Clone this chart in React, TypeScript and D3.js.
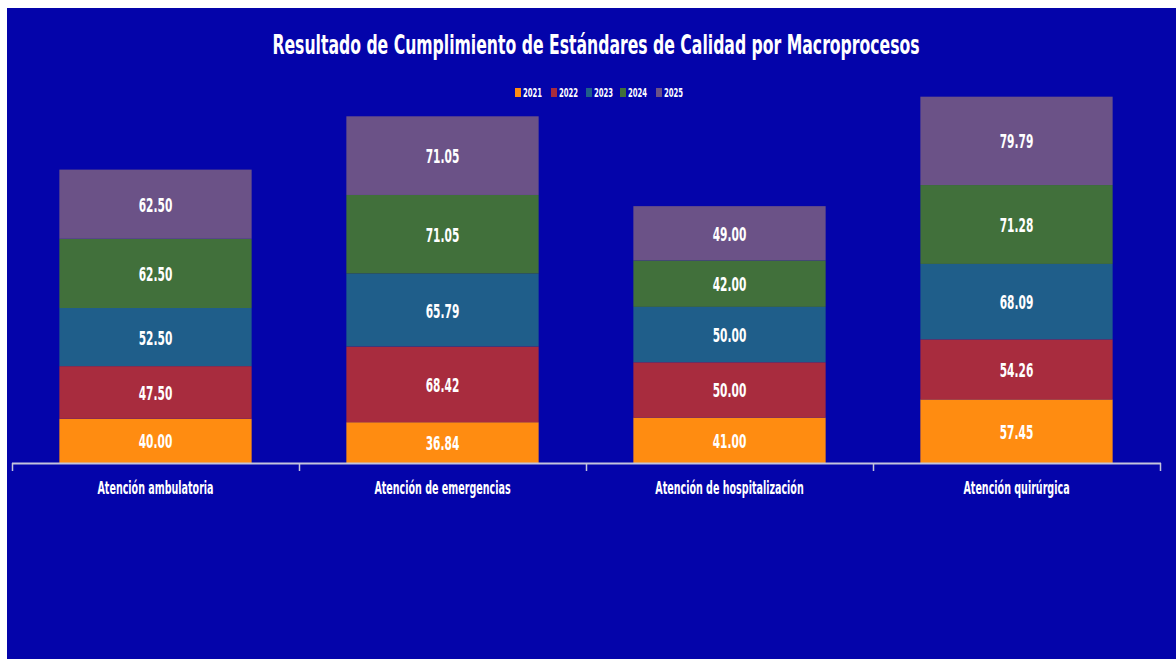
import React from "react";
import * as d3 from "d3";

const categories = [
  "Atención ambulatoria",
  "Atención de emergencias",
  "Atención de hospitalización",
  "Atención quirúrgica",
];
const years = ["2021", "2022", "2023", "2024", "2025"];
const v2021 = [40.0, 36.84, 41.0, 57.45];
const v2022 = [47.5, 68.42, 50.0, 54.26];
const v2023 = [52.5, 65.79, 50.0, 68.09];
const v2024 = [62.5, 71.05, 42.0, 71.28];
const v2025 = [62.5, 71.05, 49.0, 79.79];
const seriesValues = [v2021, v2022, v2023, v2024, v2025];
const colors = ["#FF8C11", "#A82C3E", "#1F5E8A", "#41703B", "#6B5287"];
const title = "Resultado de Cumplimiento de Estándares de Calidad por Macroprocesos";

const W = 1176;
const H = 659;
const BG = "#0404AA";
const FONT = "'Liberation Sans Narrow', 'DejaVu Sans Condensed', 'Liberation Sans', sans-serif";

export default function App() {
  const rows = categories.map((c, i) => {
    const r: any = { cat: c };
    years.forEach((y, j) => (r[y] = seriesValues[j][i]));
    return r;
  });
  const stack = d3.stack<any>().keys(years)(rows);

  const x = d3.scaleBand<string>().domain(categories).range([12, 1160]).paddingInner(0.33).paddingOuter(0.165);
  const xOuter = d3.scaleBand<string>().domain(categories).range([12, 1160]);
  const y = d3.scaleLinear().domain([0, 350]).range([463, 75.5]);

  const legendX = [515, 551, 586, 620, 656];

  return (
    <svg width={W} height={H} style={{ position: "fixed", left: 0, top: 0 }} fontFamily={FONT}>
      <rect x={7} y={8} width={W - 7} height={H - 8} fill={BG} />
      <text
        transform={`translate(596,54) scale(0.67,1)`}
        textAnchor="middle"
        fill="#fff"
        fontSize={26}
        fontWeight="bold"
      >
        {title}
      </text>
      {years.map((yr, i) => (
        <g key={yr}>
          <rect x={legendX[i]} y={88} width={6} height={9} fill={colors[i]} />
          <text
            transform={`translate(${legendX[i] + 8},97) scale(0.61,1)`}
            fill="#fff"
            fontSize={12.5}
            fontWeight="bold"
          >
            {yr}
          </text>
        </g>
      ))}
      {stack.map((s, si) => (
        <g key={s.key}>
          {s.map((d) => {
            const cat = d.data.cat;
            const x0 = x(cat)!;
            const y0 = y(d[1]);
            const h = y(d[0]) - y(d[1]);
            const cx = x0 + x.bandwidth() / 2;
            return (
              <g key={cat}>
                <rect x={x0} y={y0} width={x.bandwidth()} height={h} fill={colors[si]} />
                <text
                  transform={`translate(${cx},${y0 + h / 2 + 7.5}) scale(0.59,1)`}
                  textAnchor="middle"
                  fill="#fff"
                  fontSize={20}
                  fontWeight="bold"
                >
                  {(d[1] - d[0]).toFixed(2)}
                </text>
              </g>
            );
          })}
        </g>
      ))}
      <line x1={12} x2={1161} y1={463.5} y2={463.5} stroke="#C4C4DC" strokeWidth={2} />
      {[...categories.map((c) => xOuter(c)!), 1160].map((t, i) => (
        <line key={i} x1={t + 0.5} x2={t + 0.5} y1={463} y2={471} stroke="#C4C4DC" strokeWidth={1.5} />
      ))}
      {categories.map((c) => (
        <text
          key={c}
          transform={`translate(${x(c)! + x.bandwidth() / 2},494) scale(0.59,1)`}
          textAnchor="middle"
          fill="#fff"
          fontSize={18}
          fontWeight="bold"
        >
          {c}
        </text>
      ))}
    </svg>
  );
}
